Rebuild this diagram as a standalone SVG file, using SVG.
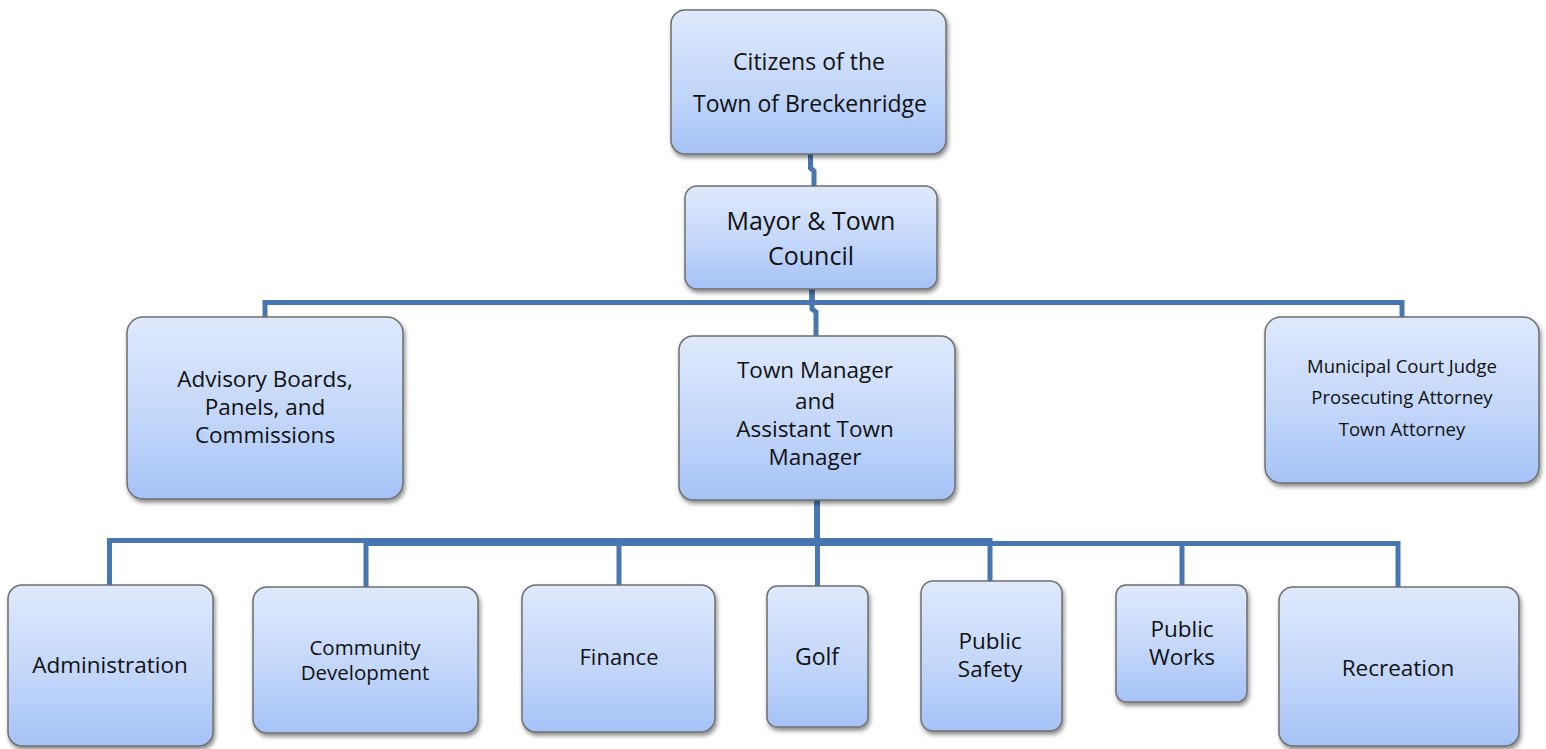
<svg xmlns="http://www.w3.org/2000/svg" width="1546" height="749" viewBox="0 0 1546 749">
  <defs>
    <linearGradient id="boxFill" x1="0" y1="0" x2="0" y2="1">
      <stop offset="0" stop-color="#dfe9fc"/>
      <stop offset="0.55" stop-color="#c3d7fa"/>
      <stop offset="1" stop-color="#a5c2f6"/>
    </linearGradient>
    <filter id="shadow" x="-10%" y="-10%" width="125%" height="130%">
      <feDropShadow dx="1.5" dy="3" stdDeviation="2.2" flood-color="#000" flood-opacity="0.45"/>
    </filter>
    <style>
      .box { fill: url(#boxFill); stroke: #6f6f6f; stroke-width: 1.5; filter: url(#shadow); }
      .lbl { font-family: "Open Sans", "Noto Sans", sans-serif; fill: #111; text-anchor: middle; }
      .link { fill: none; stroke: #4776b0; stroke-width: 5; stroke-linejoin: miter; stroke-linecap: butt; }
    </style>
  </defs>

  <rect width="1546" height="749" fill="#ffffff"/>

  <!-- reporting lines -->
  <g id="connectors">
    <path class="link" d="M810.5 154 V168 L814 171 V186"/>
    <path class="link" d="M812 289 V302.5 H265 V317"/>
    <path class="link" d="M812 289 V302.5 H1402 V317"/>
    <path class="link" d="M812 289 V309 L816 312 V336"/>
    <path class="link" d="M817 500 V540.5 H109.5 V585"/>
    <path class="link" d="M817 500 V543.5 H366 V587"/>
    <path class="link" d="M817 500 V543.5 H619 V585"/>
    <path class="link" d="M817.5 500 V586"/>
    <path class="link" d="M817 500 V540.5 H990 V581"/>
    <path class="link" d="M817 500 V543.5 H1182 V585"/>
    <path class="link" d="M817 500 V543.5 H1398 V587"/>
  </g>

  <g id="citizens">
    <rect class="box" x="671" y="10" width="275" height="144" rx="14"/>
    <text class="lbl" font-size="23" x="809" y="70">Citizens of the</text>
    <text class="lbl" font-size="23" x="810" y="112">Town of Breckenridge</text>
  </g>

  <g id="mayor-council">
    <rect class="box" x="685" y="186" width="252" height="103" rx="12"/>
    <text class="lbl" font-size="25" x="811" y="230">Mayor &amp; Town</text>
    <text class="lbl" font-size="25" x="811" y="265">Council</text>
  </g>

  <g id="advisory-boards">
    <rect class="box" x="127" y="317" width="276" height="182" rx="16"/>
    <text class="lbl" font-size="22.5" x="265" y="387">Advisory Boards,</text>
    <text class="lbl" font-size="22.5" x="265" y="415">Panels, and</text>
    <text class="lbl" font-size="22.5" x="265" y="443">Commissions</text>
  </g>

  <g id="town-manager">
    <rect class="box" x="679" y="336" width="276" height="164" rx="14"/>
    <text class="lbl" font-size="22.5" x="815" y="378">Town Manager</text>
    <text class="lbl" font-size="22.5" x="815" y="409">and</text>
    <text class="lbl" font-size="22.5" x="815" y="437">Assistant Town</text>
    <text class="lbl" font-size="22.5" x="815" y="465">Manager</text>
  </g>

  <g id="court-attorneys">
    <rect class="box" x="1265" y="317" width="274" height="166" rx="16"/>
    <text class="lbl" font-size="18.5" x="1402" y="373">Municipal Court Judge</text>
    <text class="lbl" font-size="18.5" x="1402" y="404">Prosecuting Attorney</text>
    <text class="lbl" font-size="18.5" x="1402" y="436">Town Attorney</text>
  </g>

  <g id="administration">
    <rect class="box" x="8" y="585" width="205" height="161" rx="14"/>
    <text class="lbl" font-size="22.5" x="110" y="673">Administration</text>
  </g>

  <g id="community-development">
    <rect class="box" x="253" y="587" width="225" height="146" rx="14"/>
    <text class="lbl" font-size="20.5" x="365" y="655">Community</text>
    <text class="lbl" font-size="20.5" x="365" y="680">Development</text>
  </g>

  <g id="finance">
    <rect class="box" x="522" y="585" width="193" height="147" rx="14"/>
    <text class="lbl" font-size="22" x="619" y="665">Finance</text>
  </g>

  <g id="golf">
    <rect class="box" x="767" y="586" width="101" height="141" rx="10"/>
    <text class="lbl" font-size="23" x="817" y="665">Golf</text>
  </g>

  <g id="public-safety">
    <rect class="box" x="921" y="581" width="141" height="150" rx="12"/>
    <text class="lbl" font-size="22.5" x="990" y="649">Public</text>
    <text class="lbl" font-size="22.5" x="990" y="677">Safety</text>
  </g>

  <g id="public-works">
    <rect class="box" x="1116" y="585" width="131" height="117" rx="10"/>
    <text class="lbl" font-size="22.5" x="1182" y="637">Public</text>
    <text class="lbl" font-size="22.5" x="1182" y="665">Works</text>
  </g>

  <g id="recreation">
    <rect class="box" x="1279" y="587" width="240" height="159" rx="14"/>
    <text class="lbl" font-size="22.5" x="1398" y="676">Recreation</text>
  </g>
</svg>
